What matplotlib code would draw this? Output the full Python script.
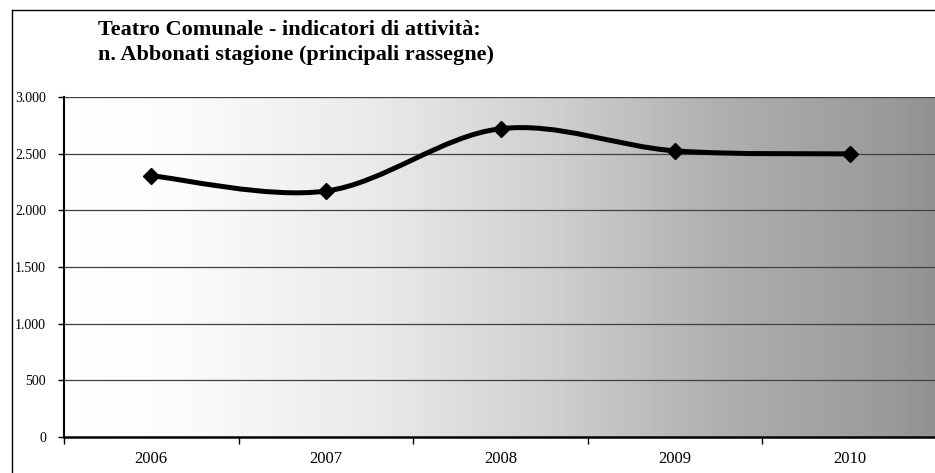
import numpy as np
import matplotlib
matplotlib.use("Agg")
import matplotlib.pyplot as plt
from matplotlib.path import Path
from matplotlib.patches import PathPatch
from matplotlib.ticker import FuncFormatter, FixedLocator
from matplotlib.colors import LinearSegmentedColormap

years = ["2006", "2007", "2008", "2009", "2010"]
abbonati = [2305, 2170, 2720, 2525, 2498]
title_lines = ["Teatro Comunale - indicatori di attività:",
               "n. Abbonati stagione (principali rassegne)"]

W, H = 935, 473
fig = plt.figure(figsize=(W / 100, H / 100), dpi=100)
plt.rcParams['font.family'] = ['Liberation Serif', 'DejaVu Serif']

def px(x0, y0, x1, y1):
    return [x0 / W, 1 - y1 / H, (x1 - x0) / W, (y1 - y0) / H]

ax = fig.add_axes(px(64, 97, 937, 437))

x = np.arange(len(years))
y = np.array(abbonati, dtype=float)

# gradient background
cmap = LinearSegmentedColormap.from_list(
    "g", [(0.0, (1, 1, 1)), (0.12, (0.99, 0.99, 0.99)), (0.35, (0.92, 0.92, 0.92)),
          (0.55, (0.82, 0.82, 0.82)), (0.75, (0.69, 0.69, 0.69)),
          (0.96, (0.60, 0.60, 0.60)), (1.0, (0.57, 0.57, 0.57))])
grad = np.linspace(0, 1, 256).reshape(1, -1)
ax.imshow(grad, extent=[-0.5, 4.5, 0, 3000], aspect='auto', cmap=cmap,
          vmin=0, vmax=1, zorder=0, interpolation='bilinear')

# smoothed line (Catmull-Rom -> cubic Bezier, like spreadsheet smoothing)
verts = [(x[0], y[0])]
codes = [Path.MOVETO]
n = len(x)
for i in range(n - 1):
    p0 = np.array([x[max(i - 1, 0)], y[max(i - 1, 0)]])
    p1 = np.array([x[i], y[i]])
    p2 = np.array([x[i + 1], y[i + 1]])
    p3 = np.array([x[min(i + 2, n - 1)], y[min(i + 2, n - 1)]])
    c1 = p1 + (p2 - p0) / 6
    c2 = p2 - (p3 - p1) / 6
    verts += [tuple(c1), tuple(c2), tuple(p2)]
    codes += [Path.CURVE4] * 3
ax.add_patch(PathPatch(Path(verts, codes), fill=False, lw=3.6, color='black',
                       zorder=3, capstyle='round', joinstyle='round'))
ax.plot(x, y, linestyle='none', marker='D', markersize=8.5, color='black', zorder=4)

ax.set_xlim(-0.5, 4.5)
ax.set_ylim(0, 3000)
ax.set_yticks(np.arange(0, 3001, 500))
ax.yaxis.set_major_formatter(FuncFormatter(lambda v, p: f"{int(v):,}".replace(",", ".")))
ax.grid(axis='y', color='#404040', lw=0.9, zorder=1)
ax.set_axisbelow(False)

ax.xaxis.set_major_locator(FixedLocator(np.arange(-0.5, 4.6, 1.0)))
ax.xaxis.set_minor_locator(FixedLocator(x))
ax.set_xticklabels([], minor=False)
ax.set_xticklabels(years, minor=True)
ax.tick_params(axis='x', which='major', direction='out', length=5, width=1, color='black')
ax.tick_params(axis='x', which='minor', length=0, pad=10, labelsize=12)
ax.tick_params(axis='y', direction='out', length=4, width=1, pad=9, labelsize=10)

for s in ['top', 'right']:
    ax.spines[s].set_visible(False)
ax.spines['left'].set_linewidth(1.5)
ax.spines['bottom'].set_linewidth(1.8)
ax.axhline(3000, color='#707070', lw=1.5, zorder=2)

for i, t in enumerate(title_lines):
    fig.text(98 / W, 1 - (35 + 25 * i) / H, t, fontsize=16, fontweight='bold',
             ha='left', va='baseline')

# outer chart border (left and top visible)
fig.add_artist(plt.Line2D([12 / W, 12 / W], [0, 1 - 10 / H], transform=fig.transFigure,
                          color='black', lw=1.0))
fig.add_artist(plt.Line2D([12 / W, 1], [1 - 10 / H, 1 - 10 / H], transform=fig.transFigure,
                          color='black', lw=1.0))

fig.savefig("out.png", dpi=100)
